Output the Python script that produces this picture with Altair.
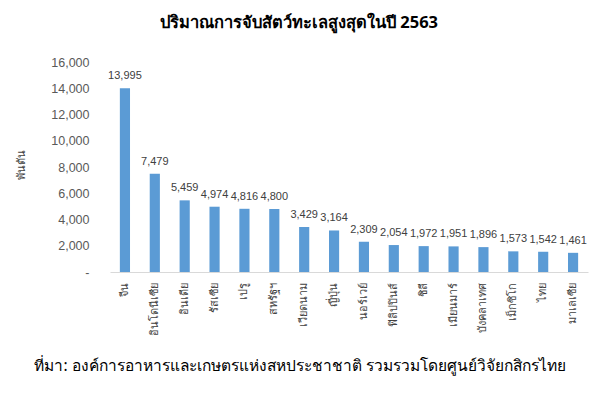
import altair as alt
import pandas as pd

countries = ["จีน", "อินโดนีเซีย", "อินเดีย", "รัสเซีย", "เปรู", "สหรัฐฯ", "เวียดนาม", "ญี่ปุ่น",
             "นอร์เวย์", "ฟิลิปปินส์", "ชิลี", "เมียนมาร์", "บังคลาเทศ", "เม็กซิโก", "ไทย", "มาเลเซีย"]
values = [13995, 7479, 5459, 4974, 4816, 4800, 3429, 3164, 2309, 2054, 1972, 1951, 1896, 1573, 1542, 1461]
y_ticks = [0, 2000, 4000, 6000, 8000, 10000, 12000, 14000, 16000]
title_text = "ปริมาณการจับสัตว์ทะเลสูงสุดในปี 2563"
y_title = "พันตัน"
source_text = "ที่มา: องค์การอาหารและเกษตรแห่งสหประชาชาติ รวมรวมโดยศูนย์วิจัยกสิกรไทย"

df = pd.DataFrame({"country": countries, "value": values})
FONT = "Noto Sans"
NUMFONT = "Liberation Sans"

x_enc = alt.X("country:N", sort=countries, title=None,
              scale=alt.Scale(paddingInner=0.66, paddingOuter=0.33),
              axis=alt.Axis(labelAngle=-90, labelFont="Liberation Sans", labelFontSize=11, labelColor="#404040",
                            domainColor="#d9d9d9", domainWidth=1, ticks=False, labelPadding=10,
                            labelOverlap=False))
y_enc = alt.Y("value:Q", title=y_title,
              scale=alt.Scale(domain=[0, 16000], nice=False),
              axis=alt.Axis(values=y_ticks, grid=False, domain=False, ticks=False, labelOverlap=False,
                            labelExpr="datum.value == 0 ? '-' : format(datum.value, ',')",
                            labelFont=NUMFONT, labelFontSize=12.5, labelColor="#595959", labelPadding=21,
                            titleFont=FONT, titleFontSize=11, titleFontWeight="normal", titleColor="#404040",
                            titleX=-84, titleY=102, titleAngle=-90))

base = alt.Chart(df).encode(x=x_enc, y=y_enc)
bars = base.mark_bar(color="#5B9BD5")
labels = base.mark_text(dy=-7, baseline="bottom", font=NUMFONT, fontSize=11, color="#404040").encode(
    text=alt.Text("value:Q", format=","))

src = alt.Chart(pd.DataFrame({"t": [source_text]})).mark_text(
    font=FONT, fontSize=15.5, color="#000000", align="center", baseline="middle").encode(
    x=alt.value(190), y=alt.value(304), text="t:N")

chart = alt.layer(bars, labels, src).properties(
    width=478, height=210,
    title=alt.TitleParams(title_text, font=FONT, fontSize=16.5, fontWeight="bold", color="#000000",
                          anchor="middle", dx=-50, offset=25),
    autosize=alt.AutoSizeParams(type="none"),
    padding={"left": 102, "top": 54, "right": 10, "bottom": 110},
).configure_view(stroke=None)

chart.save("out.html", embed_options={"renderer": "svg", "actions": False})
